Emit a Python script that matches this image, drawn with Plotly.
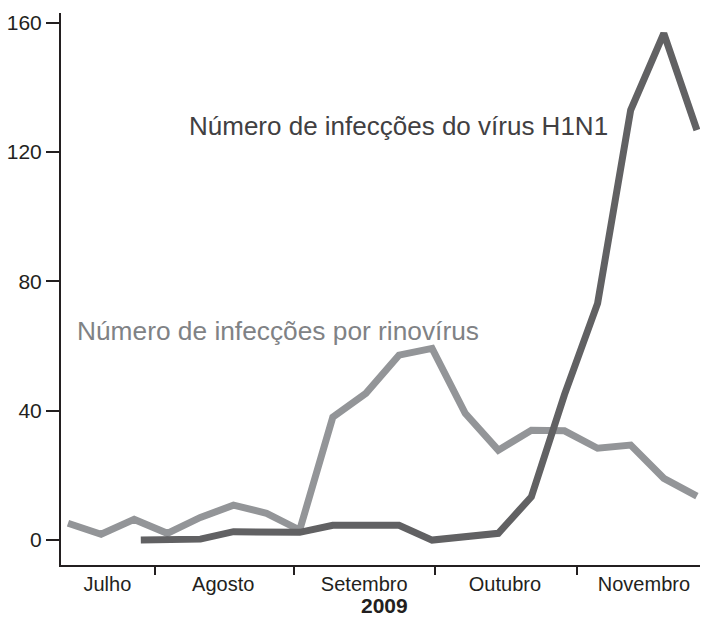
import plotly.graph_objects as go

# Weekly index (0 = first rhinovirus observation, mid-July 2009)
rhino_weeks = list(range(20))
rhino_values = [5.2, 1.8, 6.4, 2.1, 7.0, 10.8, 8.3, 3.1, 38.0, 45.4, 57.2, 59.3,
                39.2, 27.8, 34.0, 33.8, 28.4, 29.4, 19.1, 13.6]

h1n1_weeks = [2.2, 3, 4, 5, 6, 7, 8, 9, 10, 11, 12, 13, 14, 15, 16, 17, 18, 19]
h1n1_values = [0.0, 0.1, 0.3, 2.6, 2.5, 2.4, 4.6, 4.6, 4.6, 0.0, 1.0, 2.1,
               13.4, 45.0, 73.2, 133.0, 156.7, 126.8]

month_bounds = [2.63, 6.83, 11.09, 15.38]
month_centers = [1.19, 4.69, 8.95, 13.2, 17.4]
month_labels = ["Julho", "Agosto", "Setembro", "Outubro", "Novembro"]
y_ticks = [0, 40, 80, 120, 160]

REG = "Liberation Sans, Arial, sans-serif"
AX = "#231f20"

fig = go.Figure()
fig.add_trace(go.Scatter(x=rhino_weeks, y=rhino_values, mode="lines",
                         line=dict(color="#939598", width=7), showlegend=False,
                         hoverinfo="skip"))
fig.add_trace(go.Scatter(x=h1n1_weeks, y=h1n1_values, mode="lines",
                         line=dict(color="#616163", width=7), showlegend=False,
                         hoverinfo="skip"))

fig.add_annotation(x=3.6, y=128, xref="x", yref="y", xanchor="left", yanchor="middle",
                   text="Número de infecções do vírus H1N1", showarrow=False,
                   font=dict(family=REG, size=26, color="#414042"))
fig.add_annotation(x=0.2, y=64.8, xref="x", yref="y", xanchor="left", yanchor="middle",
                   text="Número de infecções por rinovírus", showarrow=False,
                   font=dict(family=REG, size=26.3, color="#808285"))
fig.add_annotation(x=0.507, y=-54 / 552, xref="paper", yref="paper", xanchor="center",
                   yanchor="bottom", text="<b>2009</b>", showarrow=False,
                   font=dict(family=REG, size=21, color=AX))

fig.update_layout(
    width=703, height=619,
    margin=dict(l=61, r=3, t=13, b=54, pad=0),
    paper_bgcolor="white", plot_bgcolor="white",
    xaxis=dict(range=[-0.211, 19.094], showgrid=False, zeroline=False,
               showline=True, linecolor=AX, linewidth=2,
               tickmode="array", tickvals=month_centers, ticktext=month_labels,
               ticks="", tickfont=dict(family=REG, size=20, color=AX),
               minor=dict(tickmode="array", tickvals=month_bounds, ticks="outside",
                          ticklen=8, tickwidth=1.5, tickcolor=AX, showgrid=False)),
    yaxis=dict(range=[-7.7, 163], showgrid=False, zeroline=False,
               showline=True, linecolor=AX, linewidth=2,
               tickmode="array", tickvals=y_ticks, ticks="outside", ticklen=13,
               tickwidth=1.5, tickcolor=AX,
               tickfont=dict(family=REG, size=21, color=AX)),
)

fig.write_html("out.html", config={"displayModeBar": False},
               post_script="document.body.style.margin='0px';document.body.style.overflow='hidden';")
